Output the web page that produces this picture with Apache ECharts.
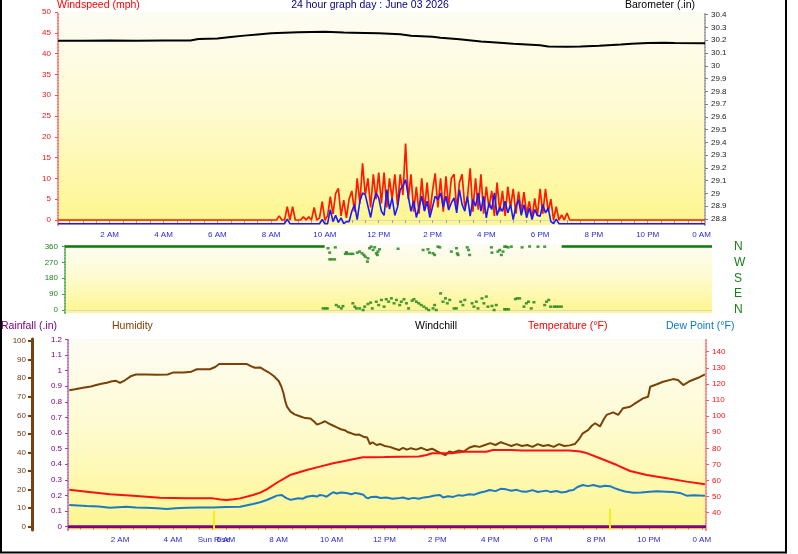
<!DOCTYPE html>
<html><head><meta charset="utf-8">
<script src="https://cdn.jsdelivr.net/npm/echarts@6/dist/echarts.min.js"></script>
<style>html,body{margin:0;padding:0;background:#fff}#c{width:798px;height:554px}</style>
</head><body><div id="c"></div>
<script>
// ---------- tick labels ----------
const hourTicks = [2,4,6,8,10,12,14,16,18,20,22,24];
const hourLabels = ['2 AM','4 AM','6 AM','8 AM','10 AM','12 PM','2 PM','4 PM','6 PM','8 PM','10 PM','0 AM'];
const windTicks = [0,5,10,15,20,25,30,35,40,45,50];
const baroTicks = [28.8,28.9,29,29.1,29.2,29.3,29.4,29.5,29.6,29.7,29.8,29.9,30,30.1,30.2,30.3,30.4];
const dirTicks = [0,90,180,270,360];
const dirNames = ['N','E','S','W','N'];
const humTicks = [0,10,20,30,40,50,60,70,80,90,100];
const rainTicks = [0,0.1,0.2,0.3,0.4,0.5,0.6,0.7,0.8,0.9,1,1.1,1.2];
const tempTicks = [40,50,60,70,80,90,100,110,120,130,140];

// ---------- time span (hours) ----------
const topSpan = [0.078, 24.13];
const botSpan = [0.033, 24.16];

// ---------- barometer ----------
const baroTimes = [0.08,1,2,3,4,5,5.3,6,6.5,7,7.5,8,9,10,10.7,11,12,12.8,13.2,14,14.3,15,15.8,16.5,17,18,18.3,19,19.5,20.2,21,21.4,22,22.6,23,24.13];
const baroValues = [30.195,30.196,30.197,30.196,30.197,30.197,30.21,30.213,30.225,30.236,30.245,30.254,30.262,30.267,30.26,30.259,30.254,30.246,30.235,30.227,30.22,30.207,30.19,30.18,30.172,30.16,30.15,30.149,30.15,30.157,30.167,30.173,30.178,30.181,30.179,30.177];

// ---------- wind (sampled every 0.1 h from 8:00) ----------
const windStart = 8.0, windStep = 0.1;
const windGust = [0,0,0,1,0,0,3.2,0,3.2,0,0,0,0.8,0,0.8,0,3,0,0.5,4.4,0,1,5.6,1.5,6.4,7.6,1,4.8,0.5,5,7,2,10,4,13.6,6,10,3,11,5,11.4,4,11.4,3,10,5,11,3.5,11,6,18.4,5,11,2,8,1.5,10,2.5,9,1.5,7,11.2,3,10,2,10.5,3,10,11,2.5,9,11,3,5.5,12.4,2,10,2.5,11,1.5,8,3,7,1,9,2,7,1,8,3,7.5,1.5,6.8,2,6.7,1.5,4.5,0.5,5.2,1,7.5,1.5,7.5,2,5,0,3.2,0,1.2,0,1.7,0];
const windAvg = [0,0,0,0,0,0,1.1,0,0,0,0,0,0,0,0,0,0,0,0,1,0,0,3.4,0.5,2,0.3,1.4,0,0.5,0.5,3,4.6,1,5.4,7.4,7,4.2,1.5,5,7.4,6.2,3,2,8.2,3.5,6.2,2,4,8.2,9,10.6,6.5,3,5.5,1.5,4,6.6,3,5.4,1.5,4,6.6,5.8,7.4,4,6.6,3.3,5,6.2,2.6,8.2,4.6,3,6.6,1.8,5.8,4.2,7.4,3,6.6,1.4,5,3.4,7.4,2,4,3,5.4,2.6,4.6,1,4.2,5.8,2,4.6,1.4,3.8,1,3.4,2,1.8,4.6,2.6,3.8,0.5,0,1.1,0,0,0,0,0];

// ---------- wind direction ----------
const dirCalmSpans = [[0.08, 9.73], [18.54, 24.13]];
const dirCalmValue = 360;
const dirPoints = [
 [9.855,350],[9.917,325],[10.127,355],[9.92,287],[10.0,287],[10.1,287],[10.5,318],[10.6,318],[10.7,318],[10.78,318],[10.54,327],
 [10.945,325],[11.03,331],[11.12,321],[11.19,312],[11.24,302],[11.34,293],[11.32,274],[11.40,350],[11.46,359],[11.53,340],[11.59,355],
 [11.65,321],[11.71,331],[11.77,344],[11.69,312],[12.46,347],[13.39,340],[13.57,344],[13.63,325],[13.76,321],[13.82,312],[13.94,359],
 [14.01,355],[14.44,331],[14.63,350],[14.69,312],[14.66,321],[15.03,355],[15.08,340],[15.12,312],[15.93,355],[15.95,325],[16.17,331],
 [16.24,340],[16.30,312],[16.36,331],[16.42,359],[16.48,359],[16.55,355],[16.67,359],[17.07,355],[17.35,360],[17.66,359],[17.91,359],
 [9.67,9],[9.76,9],[9.83,9],[10.16,28],[10.25,19],[10.35,9],[10.41,22],[10.78,38],[10.85,19],[10.91,9],[11.03,9],[11.16,0],[11.22,19],
 [11.34,34],[11.44,42],[11.50,9],[11.65,47],[11.74,28],[11.84,57],[11.94,19],[12.02,61],[12.11,47],[12.21,66],[12.31,38],[12.4,57],
 [12.52,28],[12.58,47],[12.68,61],[12.77,38],[12.85,9],[12.98,53],[13.05,61],[13.14,47],[13.23,38],[13.32,28],[13.42,19],[13.51,9],
 [13.60,0],[13.76,9],[13.82,28],[13.88,0],[14.04,94],[14.13,47],[14.22,66],[14.29,38],[14.38,57],[14.54,9],[14.63,9],[14.79,47],
 [14.87,28],[14.94,57],[15.21,38],[15.28,19],[15.37,47],[15.43,9],[15.58,66],[15.65,38],[15.74,76],[15.80,19],[15.95,23],[16.03,0],
 [16.11,28],[16.42,4],[16.48,4],[16.57,4],[16.82,62],[16.89,66],[16.98,66],[17.14,19],[17.23,38],[17.31,47],[17.41,9],[17.51,44],
 [17.91,28],[17.98,47],[18.06,57],[18.13,19],[18.26,19],[18.34,19],[18.43,19],[18.53,19]
];

// ---------- humidity ----------
const humidity = [[0.08,73.5],[0.3,74],[0.6,74.8],[0.9,75.5],[1.1,76.3],[1.3,77],[1.5,77.5],[1.7,78.3],[1.85,78.6],[2.0,77.5],[2.2,79],[2.4,81],[2.6,82],[3.0,82],[3.4,81.8],[3.8,82],[4.0,83],[4.4,83.1],[4.7,83.5],[4.9,84.8],[5.4,84.8],[5.6,86],[5.75,87.6],[6.8,87.6],[6.95,86.5],[7.1,85.6],[7.3,85.8],[7.45,84.5],[7.6,83.3],[7.8,81.3],[8.0,78.5],[8.1,75.5],[8.18,72],[8.25,67.5],[8.32,64.5],[8.45,62],[8.6,60.5],[8.8,59.5],[9.0,58.5],[9.2,58.3],[9.35,56.5],[9.45,55],[9.6,55.8],[9.75,56.8],[9.9,55.5],[10.05,54.5],[10.2,53.5],[10.35,52.5],[10.5,52],[10.6,51],[10.75,50.3],[10.9,49.5],[11.05,49.6],[11.2,48.5],[11.35,48],[11.45,44.5],[11.55,45.5],[11.7,44],[11.85,44.5],[12.0,43.5],[12.2,43],[12.4,42],[12.55,41.3],[12.7,42.5],[12.85,41.5],[13.0,42.3],[13.2,41.5],[13.4,42.5],[13.6,41.2],[13.8,42],[14.0,40.5],[14.15,39.5],[14.3,38.5],[14.45,40.5],[14.6,40],[14.8,41],[15.0,40.5],[15.2,42.5],[15.4,43.5],[15.6,43],[15.8,44],[16.0,45],[16.2,44],[16.4,45.5],[16.6,44.5],[16.8,43.5],[17.0,44.5],[17.2,43.5],[17.4,44],[17.6,43],[17.8,44.5],[18.0,43.5],[18.2,44],[18.4,43],[18.6,44.5],[18.8,43.5],[19.0,43.8],[19.2,44.5],[19.35,47],[19.5,50.3],[19.7,52],[19.85,54.5],[19.97,55.7],[20.15,54],[20.3,58],[20.4,60.2],[20.65,61.6],[20.84,60.2],[21.02,63.8],[21.29,64.6],[21.48,66.4],[21.78,69.1],[21.97,70],[22.05,75.4],[22.3,76.7],[22.54,78.1],[22.92,79.5],[23.1,79],[23.3,76.3],[23.56,78.5],[23.86,80.2],[24.12,82.1]];

// ---------- temperature ----------
const temperature = [[0.08,54.2],[0.74,53],[1.62,51.4],[2.49,50.6],[3.51,49.3],[4.52,48.9],[5.52,48.9],[5.8,48.2],[6.03,47.9],[6.3,48.3],[6.54,48.9],[7.03,51],[7.3,52.5],[7.55,54.5],[7.93,58.6],[8.43,63.4],[9.06,66.5],[9.56,68.6],[10.06,70.7],[10.4,71.8],[10.81,73.2],[11.19,74.5],[11.6,74.5],[12.0,74.6],[12.59,74.8],[13.3,74.9],[13.6,75.8],[13.8,76.9],[14.6,77],[15.0,77.9],[15.85,77.9],[16.1,78.9],[16.8,78.9],[17.2,78.6],[18.0,78.7],[19.0,78.6],[19.4,78],[19.6,77.3],[20.15,73.8],[20.79,69.6],[21.29,65.9],[21.92,63.4],[22.68,61.4],[23.43,59.3],[24.12,57.6]];

// ---------- dew point ----------
const dewPoint = [[0.08,44.8],[0.74,44.2],[1.2,43.8],[1.62,43.1],[2.24,43.7],[2.6,43.3],[3.0,43.1],[3.4,42.7],[3.77,42.3],[4.1,42.8],[4.52,43.1],[5.0,43.2],[5.52,43.3],[6.0,43.5],[6.54,43.7],[7.03,45.4],[7.3,46.5],[7.55,47.9],[7.75,49.3],[7.93,50.6],[8.12,51],[8.2,50],[8.31,48.9],[8.45,48],[8.56,48.3],[8.75,49],[8.9,48.6],[9.06,49.9],[9.3,50.5],[9.45,50],[9.56,51],[9.7,50.6],[9.81,49.9],[9.95,51.5],[10.06,52.7],[10.2,51.9],[10.35,52.5],[10.56,52.2],[10.75,51.5],[10.9,52.3],[11.06,51.8],[11.2,51.2],[11.3,49.5],[11.38,48.9],[11.5,49.8],[11.69,49.9],[11.85,49.1],[12.07,49.4],[12.3,48.6],[12.5,48.9],[12.7,49.4],[12.9,48.5],[13.1,49.2],[13.3,48.7],[13.5,49.5],[13.7,49.9],[13.9,50.7],[14.1,51],[14.22,49.4],[14.4,50.2],[14.6,49.8],[14.8,50.9],[14.98,50.6],[15.2,51.5],[15.4,51.2],[15.6,52.4],[15.8,53.2],[15.98,54.1],[16.2,53.4],[16.4,54.8],[16.6,54.5],[16.8,53.6],[17.0,54.2],[17.2,53.1],[17.37,53],[17.6,54],[17.8,52.9],[18.0,53.4],[18.12,53.7],[18.3,52.8],[18.5,53.5],[18.7,52.6],[18.88,53],[19.0,53.8],[19.14,54.1],[19.3,56],[19.5,57.2],[19.7,56.5],[19.9,57.2],[20.15,56.1],[20.35,56.8],[20.53,56.5],[20.7,55.3],[20.9,54.1],[21.1,53.2],[21.41,52.4],[21.7,52.6],[22.04,53],[22.3,53.3],[22.67,53],[22.9,52.8],[23.17,52.3],[23.43,50.6],[23.7,50.8],[24.12,50.6]];

// ---------- rainfall ----------
const rainTimes = [0.033, 24.16];
const rainValues = [0, 0];

// ---------- sun ----------
const sunRise = 5.55, sunSet = 20.53;

// ================= build =================
const FONT = 'Liberation Sans, Arial, sans-serif';
const halfHours = []; for (let h = 0.5; h <= 24; h += 0.5) halfHours.push(h);
const hourFmt = v => { const i = hourTicks.indexOf(v); if (i >= 0) return hourLabels[i]; if (v === sunRise) return 'Sun Rise'; return ''; };
const bg = {type:'linear',x:0,y:0,x2:0,y2:1,colorStops:[{offset:0,color:'#fdfcf3'},{offset:0.45,color:'#fefbd2'},{offset:1,color:'#fef68e'}]};

const windTimes = windGust.map((_, i) => +(windStart + i * windStep).toFixed(2));
const gustData = [[topSpan[0],0]].concat(windTimes.map((t,i)=>[t,windGust[i]])).concat([[topSpan[1],0]]);
const avgData = [[topSpan[0],0]].concat(windTimes.map((t,i)=>[t,windAvg[i]])).concat([[topSpan[1],0]]);
const baroData = baroTimes.map((t,i)=>[t,baroValues[i]]);
const rainData = rainTimes.map((t,i)=>[t,rainValues[i]]);

function xAxis(grid, span, labels) {
  return {type:'value', gridIndex:grid, min:span[0], max:span[1],
    axisLine:{show:true, lineStyle:{color:'#d8d8d0', width:1}},
    axisTick:{show:labels, customValues:halfHours, length:3, lineStyle:{color:'#a0a0a0'}},
    axisLabel:{show:labels, customValues: grid===2 ? hourTicks.concat([sunRise]) : hourTicks, formatter:hourFmt, color:'#2828dc', fontSize:8, fontFamily:FONT, margin:6},
    splitLine:{show:false}};
}
function yAxis(o) {
  return Object.assign({type:'value', splitLine:{show:false}}, o);
}

const option = {
  animation:false,
  backgroundColor:'#ffffff',
  grid:[
    {left:58, right:93, top:12, height:213, show:true, backgroundColor:bg, borderWidth:0},
    {left:65, right:86, top:244, height:69, show:true, backgroundColor:bg, borderWidth:0},
    {left:68, right:92, top:339, height:191, show:true, backgroundColor:bg, borderWidth:0}
  ],
  xAxis:[ xAxis(0, topSpan, true), xAxis(1, topSpan, false), xAxis(2, botSpan, true) ],
  yAxis:[
    yAxis({gridIndex:0, position:'left', min:-1.2, max:50,
      axisLine:{show:true, lineStyle:{color:'#f87878', width:2, type:[1,2]}},
      axisTick:{show:true, customValues:windTicks, length:3, lineStyle:{color:'#f05050'}},
      axisLabel:{customValues:windTicks, color:'#ff1010', fontSize:8, fontFamily:FONT, margin:7}}),
    yAxis({gridIndex:0, position:'right', min:28.753, max:30.421,
      axisLine:{show:true, lineStyle:{color:'#a0a0a0', width:2, type:[1,2]}},
      axisTick:{show:true, customValues:baroTicks, length:3, lineStyle:{color:'#808080'}},
      axisLabel:{customValues:baroTicks, formatter:v=>String(+v.toFixed(1)), color:'#202020', fontSize:8, fontFamily:FONT, margin:6}}),
    yAxis({gridIndex:0, min:-0.31, max:50.89, show:false}),
    yAxis({gridIndex:1, position:'left', min:-17, max:374,
      axisLine:{show:true, lineStyle:{color:'#60b060', width:2, type:[1,2]}},
      axisTick:{show:true, customValues:dirTicks, length:3, lineStyle:{color:'#40a040'}},
      axisLabel:{customValues:dirTicks, color:'#208020', fontSize:8, fontFamily:FONT, margin:7}}),
    yAxis({gridIndex:1, position:'right', min:-17, max:374, offset:14,
      axisLine:{show:false}, axisTick:{show:false},
      axisLabel:{customValues:dirTicks, formatter:v=>dirNames[dirTicks.indexOf(v)], color:'#188018', fontSize:12, fontFamily:FONT, margin:8}}),
    yAxis({gridIndex:2, position:'left', offset:36, min:-1.78, max:101.1,
      axisLine:{show:true, lineStyle:{color:'#7a4010', width:3}},
      axisTick:{show:true, customValues:humTicks, length:4, lineStyle:{color:'#7a4010', width:2}},
      axisLabel:{customValues:humTicks, color:'#6a3a10', fontSize:8, fontFamily:FONT, margin:6}}),
    yAxis({gridIndex:2, position:'left', min:-0.021, max:1.202,
      axisLine:{show:true, lineStyle:{color:'#c070c0', width:2, type:[1,2]}},
      axisTick:{show:true, customValues:rainTicks, length:3, lineStyle:{color:'#a040a0'}},
      axisLabel:{customValues:rainTicks, color:'#800080', fontSize:8, fontFamily:FONT, margin:6}}),
    yAxis({gridIndex:2, position:'right', min:29.25, max:147.9,
      axisLine:{show:true, lineStyle:{color:'#f88080', width:2, type:[1,2]}},
      axisTick:{show:true, customValues:tempTicks, length:3, lineStyle:{color:'#f06060'}},
      axisLabel:{customValues:tempTicks, color:'#ff1010', fontSize:8, fontFamily:FONT, margin:6}})
  ],
  series:[
    {name:'Barometer', type:'line', xAxisIndex:0, yAxisIndex:1, data:baroData, showSymbol:false, lineStyle:{color:'#000', width:2}},
    {name:'Gust', type:'line', xAxisIndex:0, yAxisIndex:0, data:gustData, showSymbol:false, lineStyle:{color:'#ff1a00', width:1.7}},
    {name:'Wind', type:'line', xAxisIndex:0, yAxisIndex:2, data:avgData, showSymbol:false, lineStyle:{color:'#1a1aff', width:1.6}},
    ...dirCalmSpans.map(s => ({type:'line', xAxisIndex:1, yAxisIndex:3, data:[[s[0],dirCalmValue],[s[1],dirCalmValue]], showSymbol:false, lineStyle:{color:'#0a7a0a', width:2.5}})),
    {name:'Direction', type:'scatter', xAxisIndex:1, yAxisIndex:3, data:dirPoints, symbol:'rect', symbolSize:[3,2.5], itemStyle:{color:'#168016'}},
    {name:'Rainfall', type:'line', xAxisIndex:2, yAxisIndex:6, data:rainData, showSymbol:false, lineStyle:{color:'#800080', width:3},
      markLine:{silent:true, symbol:'none', label:{show:false}, lineStyle:{color:'#f4ec20', width:2, type:'solid'},
        data:[[{coord:[sunRise,-0.021]},{coord:[sunRise,0.1]}],[{coord:[sunSet,-0.021]},{coord:[sunSet,0.115]}]]}},
    {name:'Humidity', type:'line', xAxisIndex:2, yAxisIndex:5, data:humidity, showSymbol:false, lineStyle:{color:'#7a4208', width:2}},
    {name:'Temperature', type:'line', xAxisIndex:2, yAxisIndex:7, data:temperature, showSymbol:false, lineStyle:{color:'#ff1010', width:2}},
    {name:'Dew Point', type:'line', xAxisIndex:2, yAxisIndex:7, data:dewPoint, showSymbol:false, lineStyle:{color:'#1a7ac4', width:2}}
  ],
  graphic:[
    {type:'text', x:57, y:5, style:{text:'Windspeed (mph)', fill:'#ff0000', font:'10.5px '+FONT, textVerticalAlign:'middle'}},
    {type:'text', x:370, y:5, style:{text:'24 hour graph day : June 03 2026', fill:'#000080', font:'10.5px '+FONT, textAlign:'center', textVerticalAlign:'middle'}},
    {type:'text', x:695, y:5, style:{text:'Barometer (.in)', fill:'#000000', font:'10.5px '+FONT, textAlign:'right', textVerticalAlign:'middle'}},
    {type:'text', x:1, y:326, style:{text:'Rainfall (.in)', fill:'#800080', font:'10.5px '+FONT, textVerticalAlign:'middle'}},
    {type:'text', x:112, y:326, style:{text:'Humidity', fill:'#804000', font:'10.5px '+FONT, textVerticalAlign:'middle'}},
    {type:'text', x:415, y:326, style:{text:'Windchill', fill:'#000000', font:'10.5px '+FONT, textVerticalAlign:'middle'}},
    {type:'text', x:528, y:326, style:{text:'Temperature (°F)', fill:'#ff0000', font:'10.5px '+FONT, textVerticalAlign:'middle'}},
    {type:'text', x:666, y:326, style:{text:'Dew Point (°F)', fill:'#0a78c8', font:'10.5px '+FONT, textVerticalAlign:'middle'}},
    {type:'line', shape:{x1:1,y1:0,x2:1,y2:553}, style:{stroke:'#000', lineWidth:2}},
    {type:'line', shape:{x1:786,y1:0,x2:786,y2:553}, style:{stroke:'#000', lineWidth:2}},
    {type:'line', shape:{x1:0,y1:552.5,x2:787,y2:552.5}, style:{stroke:'#000', lineWidth:2}}
  ]
};
echarts.init(document.getElementById('c'), null, {renderer:'canvas'}).setOption(option);
</script></body></html>
